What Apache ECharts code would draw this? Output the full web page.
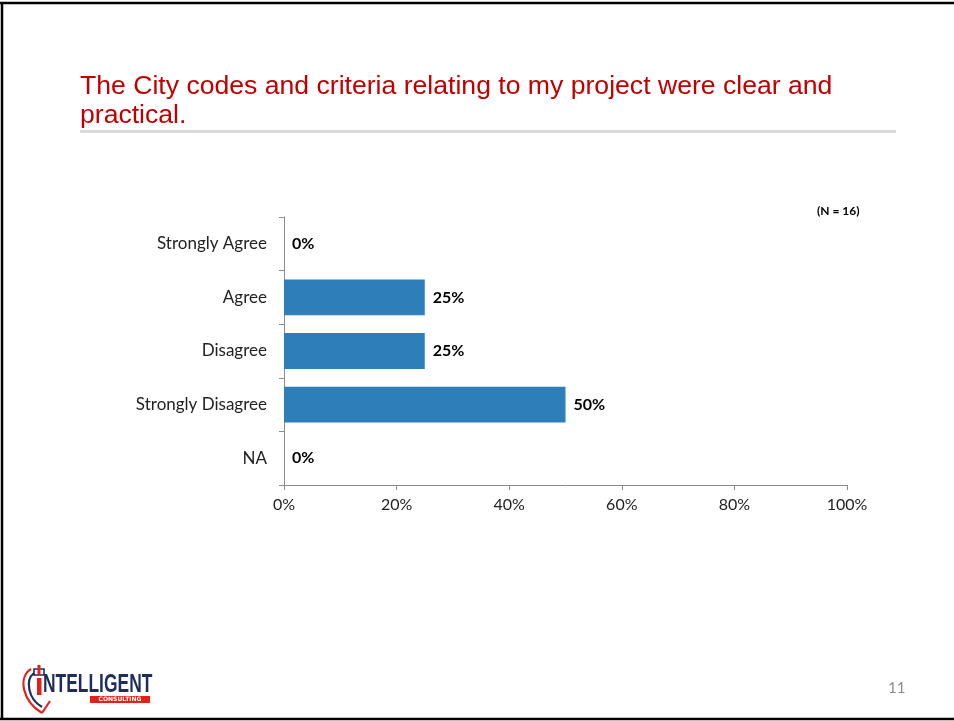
<!DOCTYPE html>
<html>
<head>
<meta charset="utf-8">
<script src="https://cdn.jsdelivr.net/npm/echarts@6/dist/echarts.min.js"></script>
<style>
  html, body { margin: 0; padding: 0; background: #fff; }
  #chart { width: 954px; height: 721px; }
</style>
</head>
<body>
<div id="chart"></div>
<script>
// Survey responses (share of respondents, %)
const categories = ['Strongly Agree', 'Agree', 'Disagree', 'Strongly Disagree', 'NA'];
const shares = [0, 25, 25, 50, 0];
const xTicks = [0, 20, 40, 60, 80, 100];
const titleText = 'The City codes and criteria relating to my project were clear and\npractical.';
const sampleNote = '(N = 16)';
const pageNumber = '11';

const labelFont = 'Lato, "Open Sans", sans-serif';
const chart = echarts.init(document.getElementById('chart'), null, { renderer: 'canvas' });

chart.setOption({
  backgroundColor: '#ffffff',
  animation: false,
  grid: { left: 284, right: 107, top: 217, bottom: 236, containLabel: false },
  xAxis: {
    type: 'value',
    min: xTicks[0],
    max: xTicks[xTicks.length - 1],
    interval: xTicks[1] - xTicks[0],
    axisLine: { show: true, lineStyle: { color: '#8c8c8c', width: 1 } },
    axisTick: { show: true, length: 5, lineStyle: { color: '#8c8c8c' } },
    splitLine: { show: false },
    axisLabel: {
      formatter: v => v + '%',
      color: '#222', fontFamily: labelFont, fontSize: 16, margin: 12
    }
  },
  yAxis: {
    type: 'category',
    data: categories,
    inverse: true,
    axisLine: { show: true, lineStyle: { color: '#8c8c8c', width: 1 } },
    axisTick: { show: true, length: 5, lineStyle: { color: '#8c8c8c' } },
    axisLabel: { color: '#222', fontFamily: labelFont, fontSize: 17, margin: 17 }
  },
  series: [{
    type: 'bar',
    data: shares,
    barCategoryGap: '33%',
    itemStyle: { color: '#2e7eb9' },
    label: {
      show: true,
      position: 'right',
      distance: 8,
      formatter: p => p.value + '%',
      color: '#000', fontWeight: 'bold', fontFamily: labelFont, fontSize: 16
    }
  }],
  graphic: [
    // slide frame (top, left, bottom edges)
    { type: 'line', shape: { x1: 0, y1: 3, x2: 954, y2: 3 }, style: { stroke: '#000', lineWidth: 2.5 } },
    { type: 'line', shape: { x1: 2, y1: 2, x2: 2, y2: 720 }, style: { stroke: '#000', lineWidth: 2.5 } },
    { type: 'line', shape: { x1: 0, y1: 719, x2: 954, y2: 719 }, style: { stroke: '#000', lineWidth: 2.5 } },
    // title and rule
    {
      type: 'text', x: 80, y: 72,
      style: { text: titleText, fill: '#c00000', font: '26.6px "Liberation Sans", Arial, sans-serif', lineHeight: 29 }
    },
    { type: 'rect', shape: { x: 80, y: 130, width: 816, height: 3 }, style: { fill: '#d9d9d9' } },
    // sample size note
    {
      type: 'text', x: 817, y: 205,
      style: { text: sampleNote, fill: '#000', font: 'bold 12px ' + labelFont }
    },
    // page number
    {
      type: 'text', x: 888, y: 681,
      style: { text: pageNumber, fill: '#8a8a8a', font: '15px ' + labelFont }
    },
    // company mark
    {
      type: 'group', x: 18, y: 665,
      children: [
        { type: 'bezierCurve', shape: { x1: 13, y1: 4, cpx1: 0, cpy1: 12, cpx2: 4, cpy2: 36, x2: 24, y2: 48 }, style: { fill: 'none', stroke: '#e32119', lineWidth: 2.2 } },
        { type: 'line', shape: { x1: 24, y1: 48, x2: 32, y2: 36 }, style: { stroke: '#e32119', lineWidth: 2.2 } },
        { type: 'bezierCurve', shape: { x1: 16, y1: 8, cpx1: 7, cpy1: 15, cpx2: 10, cpy2: 34, x2: 24, y2: 42 }, style: { fill: 'none', stroke: '#1d2d5c', lineWidth: 2.2 } },
        { type: 'rect', shape: { x: 16, y: 4, width: 10, height: 6 }, style: { fill: 'none', stroke: '#1d2d5c', lineWidth: 1.6 } },
        { type: 'rect', shape: { x: 19.5, y: 0, width: 3, height: 10 }, style: { fill: '#e32119' } },
        { type: 'rect', shape: { x: 19, y: 13, width: 4.5, height: 17 }, style: { fill: '#e32119' } },
        {
          type: 'group', x: 25, y: 7, scaleX: 0.67,
          children: [
            { type: 'text', x: 0, y: 0, style: { text: 'NTELLIGENT', fill: '#1d2d5c', font: 'bold 26px "Liberation Sans", sans-serif' } }
          ]
        },
        { type: 'rect', shape: { x: 72, y: 31, width: 60, height: 7 }, style: { fill: '#e32119' } },
        { type: 'text', x: 102, y: 31.5, style: { text: 'CONSULTING', fill: '#fff', font: 'bold 6px "DejaVu Sans", sans-serif', align: 'center' } }
      ]
    }
  ]
});
</script>
</body>
</html>
